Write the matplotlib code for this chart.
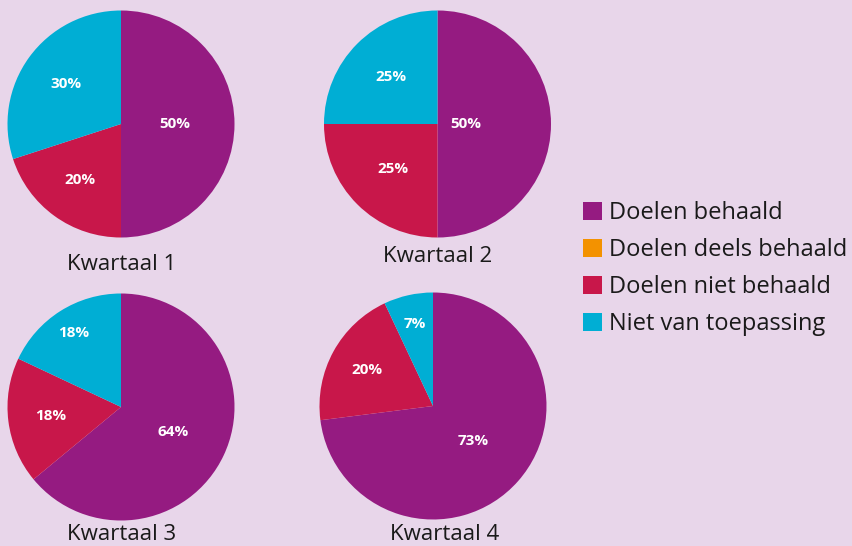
import matplotlib
matplotlib.use("Agg")
import matplotlib.pyplot as plt
import numpy as np

plt.rcParams["font.family"] = ["Open Sans", "DejaVu Sans"]

# data
categories = ["Doelen behaald", "Doelen deels behaald", "Doelen niet behaald", "Niet van toepassing"]
quarters = ["Kwartaal 1", "Kwartaal 2", "Kwartaal 3", "Kwartaal 4"]
q1 = [50, 0, 20, 30]
q2 = [50, 0, 25, 25]
q3 = [64, 0, 18, 18]
q4 = [73, 0, 20, 7]
values = [q1, q2, q3, q4]

colors = ["#951B81", "#F39200", "#C8174A", "#00AED4"]
bg = "#E8D6EA"

W, H = 852, 546
fig = plt.figure(figsize=(W / 100, H / 100), dpi=100, facecolor=bg)

# pie centres / radius in pixels, label distances, title offsets (px from centre)
centres = [(121, 124), (437.5, 124), (121, 407), (433, 406)]
radius = 113.5
label_dist = [
    [0.47, 0, 0.61, 0.60],
    [0.25, 0, 0.56, 0.58],
    [0.51, 0, 0.62, 0.77],
    [0.47, 0, 0.66, 0.74],
]
title_dx = [1, 0, 1, 12]
title_off = [140, 133, 127, 128]

wedges_for_legend = None
for i, (vals, (cx, cy)) in enumerate(zip(values, centres)):
    ax = fig.add_axes([(cx - radius) / W, (H - cy - radius) / H, 2 * radius / W, 2 * radius / H])
    ax.set_facecolor(bg)
    wedges, _ = ax.pie(vals, colors=colors, startangle=90, counterclock=False,
                       radius=1, wedgeprops=dict(linewidth=0))
    if wedges_for_legend is None:
        wedges_for_legend = wedges
    total = sum(vals)
    start = 90.0
    for j, v in enumerate(vals):
        ang = start - 360.0 * v / total / 2
        start -= 360.0 * v / total
        if v == 0:
            continue
        d = label_dist[i][j]
        ax.text(d * np.cos(np.radians(ang)), d * np.sin(np.radians(ang)), f"{v}%",
                ha="center", va="center", color="white", fontsize=11, fontweight="bold")
    ax.text(title_dx[i] / radius, -title_off[i] / radius, quarters[i], ha="center", va="center",
            fontsize=16, color="#1a1a1a", clip_on=False)
    ax.set_xlim(-1, 1)
    ax.set_ylim(-1, 1)
    ax.set_aspect("equal")
    ax.axis("off")

leg = fig.legend(wedges_for_legend, categories, loc="upper left",
                 bbox_to_anchor=(562 / W, 1 - 180 / H), frameon=False,
                 fontsize=17, handlelength=0.8, handleheight=0.8,
                 handletextpad=0.3, labelspacing=0.55, labelcolor="#1a1a1a")

fig.savefig("out.png", dpi=100, facecolor=bg)
